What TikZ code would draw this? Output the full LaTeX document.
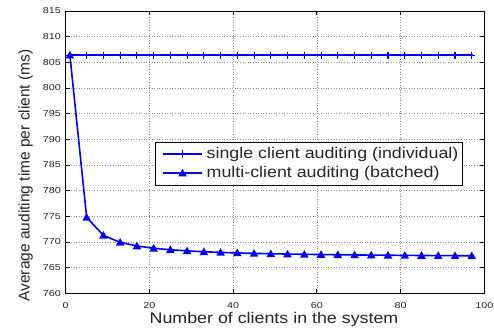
\documentclass[tikz,border=0pt]{standalone}
\usepackage{fontspec}
\setmainfont{Liberation Sans}
% data-space to page-space mapping (pt)
\def\px#1{65.7+4.186*(#1)}
\def\py#1{34.7+5.133*((#1)-760)}
\tikzset{
  ticklab/.style={font=\fontsize{8.6}{10}\selectfont, text=black!85, inner sep=0pt},
  axlabel/.style={font=\fontsize{15.5}{17}\selectfont, text=black!85, inner sep=0pt},
  series/.style={blue, line width=1.6pt, line join=round},
  gridline/.style={black!45, dotted, line width=0.6pt},
  framebox/.style={black, line width=0.9pt},
  trimark/.pic={\fill[blue] (-4.3,-3.3) -- (4.3,-3.3) -- (0,4.3) -- cycle;},
  plusmark/.pic={\draw[blue, line width=1.1pt] (-3.6,0) -- (3.6,0) (0,-3.6) -- (0,3.6);
                 \fill[blue] (0,0) circle (1.6);}
}
\begin{document}
\begin{tikzpicture}[x=1pt,y=1pt]
\useasboundingbox (0,0) rectangle (494,328);
\fill[white] (0,0) rectangle (494,328);

% grid
\foreach \u in {20,40,60,80}
  \draw[gridline] ({\px{\u}},{\py{760}}) -- ({\px{\u}},{\py{815}});
\foreach \v in {765,770,...,810}
  \draw[gridline] ({\px{0}},{\py{\v}}) -- ({\px{100}},{\py{\v}});

% ticks (inward, all four sides) and tick labels
\foreach \u in {0,20,...,100} {
  \draw[framebox] ({\px{\u}},{\py{760}}) -- ++(0,4);
  \draw[framebox] ({\px{\u}},{\py{815}}) -- ++(0,-4);
  \node[ticklab, anchor=base] (xt\u) at ({\px{\u}},19.8) {\scalebox{1.25}[1]{\u}};
}
\foreach \v in {760,765,...,815} {
  \draw[framebox] ({\px{0}},{\py{\v}}) -- ++(4,0);
  \draw[framebox] ({\px{100}},{\py{\v}}) -- ++(-4,0);
  \node[ticklab, anchor=east] (yt\v) at (61,{\py{\v}}) {\scalebox{1.25}[1]{\v}};
}

% axes frame
\draw[framebox] ({\px{0}},{\py{760}}) rectangle ({\px{100}},{\py{815}});

% single client auditing (individual)
\draw[series] ({\px{1}},{\py{806.4}}) -- ({\px{97}},{\py{806.4}});
\foreach \n in {1,5,...,97}
  \pic at ({\px{\n}},{\py{806.4}}) {plusmark};

% multi-client auditing (batched)
\draw[series] ({\px{1}},{\py{806.4}})
  \foreach \n in {5,9,...,97} { -- ({\px{\n}},{\py{766.9+39.5/\n}}) };
\foreach \n in {1,5,...,97}
  \pic at ({\px{\n}},{\py{766.9+39.5/\n}}) {trimark};

% legend
\draw[framebox, fill=white] (155,143) rectangle (462,186);
\coordinate (la) at (163,174);
\coordinate (lb) at (202,174);
\coordinate (lc) at (163,155);
\coordinate (ld) at (202,155);
\draw[series] (la) -- (lb);
\pic at (182.5,174) {plusmark};
\draw[series] (lc) -- (ld);
\pic at (182.5,155) {trimark};
\node[axlabel, anchor=west] (leg1) at (206.5,174) {\scalebox{1.15}[1]{single client auditing (individual)}};
\node[axlabel, anchor=west] (leg2) at (206.5,155) {\scalebox{1.15}[1]{multi-client auditing (batched)}};

% axis labels
\node[axlabel, anchor=base] (xlab) at (274,4.8) {\scalebox{1.15}[1]{Number of clients in the system}};
\node[axlabel, anchor=base, rotate=90] (ylab) at (29.5,152.5) {Average auditing time per client (ms)};
\end{tikzpicture}
\end{document}
